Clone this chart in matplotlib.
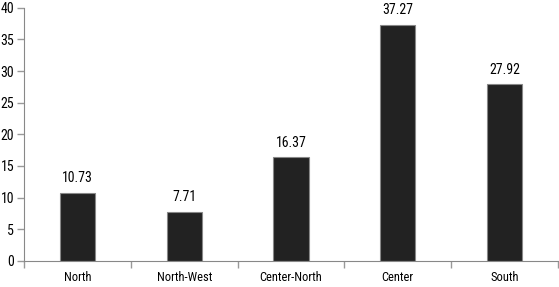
import matplotlib
matplotlib.use("Agg")
import matplotlib.pyplot as plt

regions = ["North", "North-West", "Center-North", "Center", "South"]
values = [10.73, 7.71, 16.37, 37.27, 27.92]
yticks = [0, 5, 10, 15, 20, 25, 30, 35, 40]

plt.rcParams['font.family'] = ['Roboto Condensed', 'Archivo Narrow', 'Liberation Sans Narrow', 'DejaVu Sans']

fig = plt.figure(figsize=(5.59, 2.87), dpi=100)
ax = fig.add_axes([0.043, 0.091, 0.955, 0.882])

x = list(range(len(regions)))
ax.bar(x, values, width=0.33, color="#222222", edgecolor="#888888", linewidth=0.8, zorder=2)
for xi, v in zip(x, values):
    ax.text(xi, v + 1.2, f"{v:.2f}", ha="center", va="bottom", fontsize=10)

ax.set_xlim(-0.5, len(regions) - 0.5)
ax.set_ylim(0, 40)
ax.set_yticks(yticks)
ax.tick_params(axis="y", length=5, width=1, color="#999999", labelsize=10, pad=2)
ax.set_xticks([i - 0.5 for i in range(len(regions) + 1)])
ax.set_xticklabels([])
ax.set_xticks(x, minor=True)
ax.set_xticklabels(regions, minor=True, fontsize=9)
ax.tick_params(axis="x", which="major", length=5, width=1, color="#999999")
ax.tick_params(axis="x", which="minor", length=0, pad=7)

for s in ["top", "right"]:
    ax.spines[s].set_visible(False)
for s in ["left", "bottom"]:
    ax.spines[s].set_color("#888888")

fig.savefig("out.png", dpi=100)
